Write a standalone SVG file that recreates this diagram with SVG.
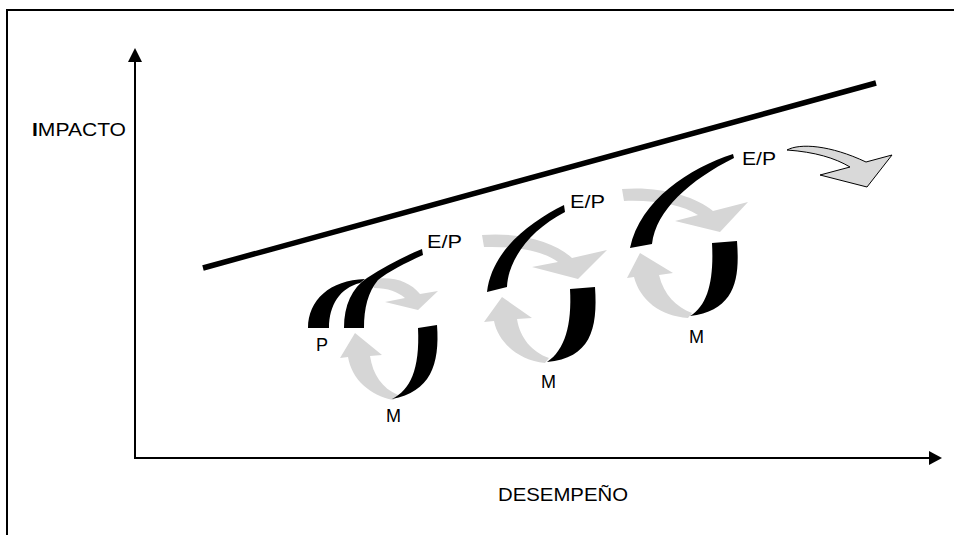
<svg xmlns="http://www.w3.org/2000/svg" width="954" height="535" viewBox="0 0 954 535">
  <style>
    .lbl { font-family: "Liberation Sans", Arial, sans-serif; font-size: 18px; fill: #000; }
    .ax { font-family: "Liberation Sans", Arial, sans-serif; font-size: 18px; fill: #000; }
    .blk { fill: #000; stroke: none; }
    .gry { fill: #d6d6d6; stroke: none; }
    .axis { stroke: #000; stroke-width: 2; fill: none; }
  </style>
  <rect x="0" y="0" width="954" height="535" fill="#fff"/>
  <g id="frame">
    <path d="M7,535 L7,10 L954,10" fill="none" stroke="#000" stroke-width="2"/>
  </g>
  <g id="axes">
    <line class="axis" x1="135" y1="459" x2="135" y2="60"/>
    <polygon class="blk" points="135,48 128,62 142,62"/>
    <line class="axis" x1="134" y1="458" x2="931" y2="458"/>
    <polygon class="blk" points="942,458 929,451 929,465"/>
    <text class="ax" x="32" y="136" textLength="94" lengthAdjust="spacingAndGlyphs"><tspan font-weight="bold">I</tspan>MPACTO</text>
    <text class="ax" x="498" y="501" textLength="130" lengthAdjust="spacingAndGlyphs">DESEMPEÑO</text>
  </g>
  <g id="trend">
    <line x1="203" y1="268" x2="876" y2="83" stroke="#000" stroke-width="5.5"/>
  </g>
  <g id="unit1">
    <path class="gry" d="M372,279 C395,276 410,282 420,294 L438,291 L418,310 L385,302 L405,298 C398,292 388,288 374,288 Z"/>
    <path class="gry" d="M355,333 L382,355 L370,356 C373,375 382,388 398,395 L393,400 C370,395 352,380 348,357 L340,358 Z"/>
    <path class="blk" d="M308,328 C308,300 330,280 365,279 L360,283 C340,288 329,305 329,328 Z"/>
    <path class="blk" d="M344,328 C344,305 352,288 367,278 C385,266 405,256 422,249 L423,255 C405,263 388,272 378,280 C368,292 364,308 364,328 Z"/>
    <path class="blk" d="M418,328 L437,325 C440,365 430,392 392,399 C410,390 420,370 418,328 Z"/>
    <text class="lbl" x="427" y="248" textLength="35" lengthAdjust="spacingAndGlyphs">E/P</text>
    <text class="lbl" x="316" y="351">P</text>
    <text class="lbl" x="386" y="422">M</text>
  </g>
  <g id="unit2">
    <path class="gry" d="M482,235 C520,232 555,242 572,258 L607,250 L578,279 L532,267 L558,262 C545,252 520,246 484,247 Z"/>
    <path class="gry" d="M502,297 L532,318 L517,319 C520,338 532,352 549,358 L545,363 C518,360 498,342 494,321 L484,322 Z"/>
    <path class="blk" d="M564,205 C530,222 492,250 487,292 L507,287 C508,260 530,230 565,212 Z"/>
    <path class="blk" d="M570,289 L595,287 C598,330 590,358 547,362 C565,350 572,325 570,289 Z"/>
    <text class="lbl" x="570" y="208" textLength="35" lengthAdjust="spacingAndGlyphs">E/P</text>
    <text class="lbl" x="541" y="388">M</text>
  </g>
  <g id="unit3">
    <path class="gry" d="M622,189 C660,186 695,196 713,211 L748,202 L720,232 L675,221 L698,215 C682,205 658,200 624,201 Z"/>
    <path class="gry" d="M640,253 L673,273 L659,275 C664,295 676,307 692,313 L688,318 C660,316 640,300 634,277 L627,278 Z"/>
    <path class="blk" d="M733,154 C690,168 640,200 630,248 L652,244 C656,210 690,180 734,158 Z"/>
    <path class="blk" d="M712,243 L737,241 C740,280 735,310 690,316 C708,305 714,280 712,243 Z"/>
    <text class="lbl" x="742" y="165" textLength="34" lengthAdjust="spacingAndGlyphs">E/P</text>
    <text class="lbl" x="689" y="343">M</text>
  </g>
  <g id="next-arrow">
    <path d="M787,150 C800,143 830,145 866,162 L892,155 L867,187 L820,175 L850,167 C835,158 815,152 787,150 Z" fill="#d9d9d9" stroke="#000" stroke-width="1"/>
  </g>
</svg>
